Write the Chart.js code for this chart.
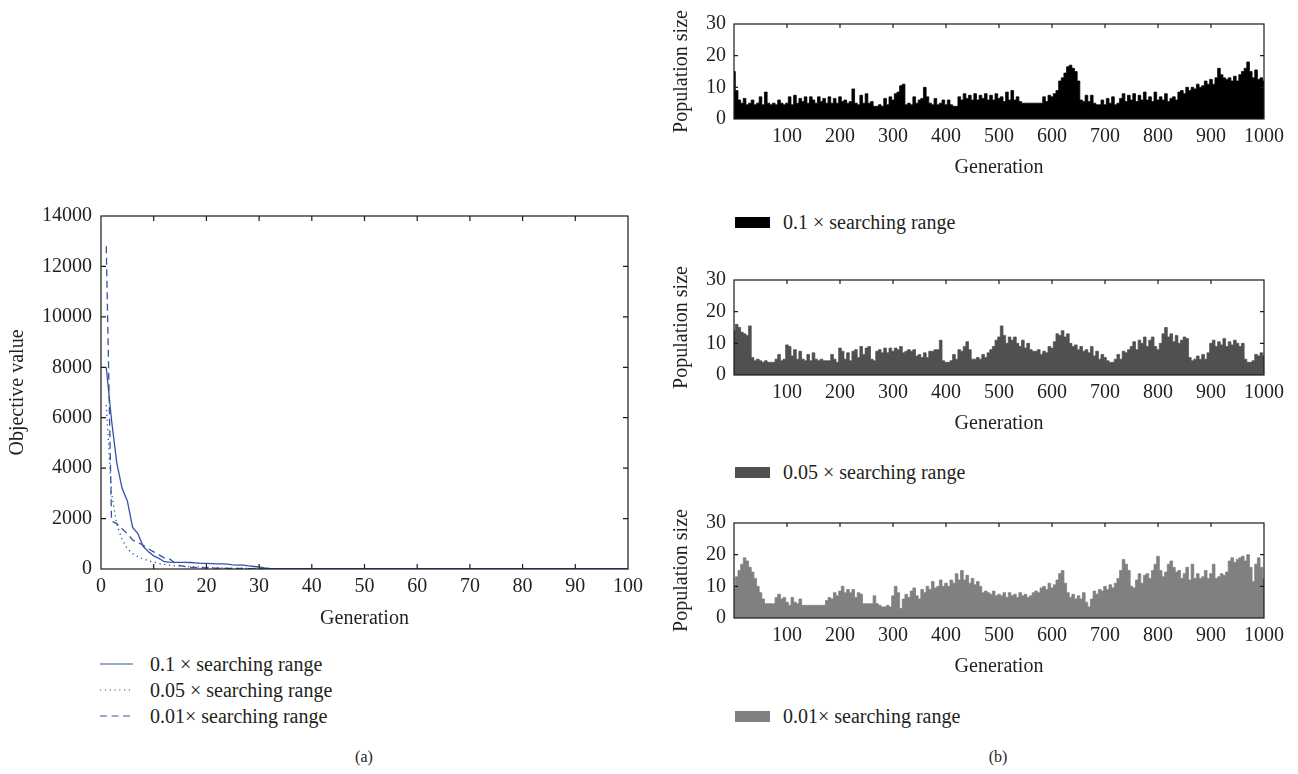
<!DOCTYPE html>
<html>
<head>
<meta charset="utf-8">
<script src="https://cdn.jsdelivr.net/npm/chart.js@4.4.1/dist/chart.umd.min.js"></script>
<style>
  html, body { margin: 0; padding: 0; background: #ffffff; }
  body { width: 1298px; height: 774px; position: relative; overflow: hidden;
         font-family: "Liberation Serif", "DejaVu Serif", serif; color: #231f20; }
  canvas { position: absolute; }
  .leg { position: absolute; font-size: 20px; line-height: 24px; white-space: nowrap; }
  .leg svg { position: absolute; }
  .cap { position: absolute; font-size: 16px; transform: translateX(-50%); }
</style>
</head>
<body>
<canvas id="chartA" width="660" height="445" style="left:0px;top:195px"></canvas>
<canvas id="chartB1" width="638" height="185" style="left:660px;top:0px"></canvas>
<canvas id="chartB2" width="638" height="185" style="left:660px;top:256px"></canvas>
<canvas id="chartB3" width="638" height="185" style="left:660px;top:499px"></canvas>

<!-- legend of panel (a) -->
<div class="leg" style="left:100px;top:652px;width:300px;height:80px">
  <svg width="34" height="80" style="left:0;top:0">
    <line x1="0" y1="12" x2="33" y2="12" stroke="#3553a5" stroke-width="1.2"/>
    <line x1="0" y1="38" x2="33" y2="38" stroke="#3553a5" stroke-width="1.2" stroke-dasharray="1.2 3.6"/>
    <line x1="0" y1="64" x2="33" y2="64" stroke="#3553a5" stroke-width="1.2" stroke-dasharray="7 4.5"/>
  </svg>
  <div style="position:absolute;left:50px;top:0px">0.1 × searching range</div>
  <div style="position:absolute;left:50px;top:26px">0.05 × searching range</div>
  <div style="position:absolute;left:50px;top:52px">0.01× searching range</div>
</div>

<!-- legends of panel (b) -->
<div class="leg" style="left:735px;top:210px">
  <span style="position:absolute;left:0;top:7px;width:35px;height:11px;background:#000000"></span>
  <span style="position:absolute;left:48px;top:0">0.1 × searching range</span>
</div>
<div class="leg" style="left:735px;top:460px">
  <span style="position:absolute;left:0;top:7px;width:35px;height:11px;background:#4f5150"></span>
  <span style="position:absolute;left:48px;top:0">0.05 × searching range</span>
</div>
<div class="leg" style="left:735px;top:704px">
  <span style="position:absolute;left:0;top:7px;width:35px;height:11px;background:#808080"></span>
  <span style="position:absolute;left:48px;top:0">0.01× searching range</span>
</div>

<div class="cap" style="left:364px;top:748px">(a)</div>
<div class="cap" style="left:998px;top:748px">(b)</div>

<script>
// ---- Panel (a): objective value per generation ----
const genA = [
  1, 2, 3, 4, 5, 6, 7, 8, 9, 10, 11, 12, 13, 14, 15, 16, 17, 18, 19, 20,
  21, 22, 23, 24, 25, 26, 27, 28, 29, 30, 31, 32, 33, 34, 35, 36, 37, 38, 39, 40,
  41, 42, 43, 44, 45, 46, 47, 48, 49, 50, 51, 52, 53, 54, 55, 56, 57, 58, 59, 60,
  61, 62, 63, 64, 65, 66, 67, 68, 69, 70, 71, 72, 73, 74, 75, 76, 77, 78, 79, 80,
  81, 82, 83, 84, 85, 86, 87, 88, 89, 90, 91, 92, 93, 94, 95, 96, 97, 98, 99, 100
];
const objRange010 = [
  8000, 5900, 4200, 3200, 2700, 1650, 1400, 900, 680, 520, 420, 290, 270, 265, 262, 260, 258, 240, 225, 220,
  215, 205, 200, 190, 165, 155, 150, 120, 100, 80, 40, 20, 12, 10, 10, 10, 10, 10, 10, 10,
  10, 10, 10, 10, 10, 10, 10, 10, 10, 10, 10, 10, 10, 10, 10, 10, 10, 10, 10, 10,
  10, 10, 10, 10, 10, 10, 10, 10, 10, 10, 10, 10, 10, 10, 10, 10, 10, 10, 10, 10,
  10, 10, 10, 10, 10, 10, 10, 10, 10, 10, 10, 10, 10, 10, 10, 10, 10, 10, 10, 10
];
const objRange005 = [
  6500, 3000, 1750, 1180, 800, 615, 490, 400, 330, 270, 220, 180, 150, 125, 110, 100, 90, 85, 80, 70,
  55, 45, 40, 35, 30, 25, 22, 20, 18, 15, 12, 10, 10, 10, 10, 10, 10, 10, 10, 10,
  10, 10, 10, 10, 10, 10, 10, 10, 10, 10, 10, 10, 10, 10, 10, 10, 10, 10, 10, 10,
  10, 10, 10, 10, 10, 10, 10, 10, 10, 10, 10, 10, 10, 10, 10, 10, 10, 10, 10, 10,
  10, 10, 10, 10, 10, 10, 10, 10, 10, 10, 10, 10, 10, 10, 10, 10, 10, 10, 10, 10
];
const objRange001 = [
  12800, 1900, 1800, 1600, 1400, 1150, 1050, 940, 800, 680, 560, 440, 400, 250, 130, 90, 70, 60, 50, 45,
  40, 35, 30, 28, 25, 22, 20, 18, 15, 12, 10, 10, 10, 10, 10, 10, 10, 10, 10, 10,
  10, 10, 10, 10, 10, 10, 10, 10, 10, 10, 10, 10, 10, 10, 10, 10, 10, 10, 10, 10,
  10, 10, 10, 10, 10, 10, 10, 10, 10, 10, 10, 10, 10, 10, 10, 10, 10, 10, 10, 10,
  10, 10, 10, 10, 10, 10, 10, 10, 10, 10, 10, 10, 10, 10, 10, 10, 10, 10, 10, 10
];
const ticksGenA = [0, 10, 20, 30, 40, 50, 60, 70, 80, 90, 100];
const ticksObj = [0, 2000, 4000, 6000, 8000, 10000, 12000, 14000];

// ---- Panel (b): population size, sampled every 5 generations (0..1000) ----
const popRange010 = [
  15, 9, 6, 5, 6.5, 4.5, 5, 6, 4.5, 5, 7, 4.5, 8.5, 5, 4.5, 5, 4.5, 6, 5, 4.5,
  5, 7, 4.5, 7.5, 5, 6.5, 5.5, 7, 5, 7, 6, 5, 7, 5.5, 6.5, 5, 7, 5, 6.5, 5,
  7, 5.5, 6, 5, 5.5, 9.5, 5, 4.5, 7.5, 5, 8, 5, 5.5, 4, 4, 4.5, 4, 6.5, 4.5, 7,
  6, 8, 8.5, 10.5, 11, 4.5, 5, 4.5, 7, 5, 6, 6.5, 10, 7, 5, 4.5, 6.5, 4.5, 5, 6,
  4.5, 6, 4.5, 4, 4, 7, 6, 8, 6.5, 7.5, 6, 8, 6, 7.5, 6.5, 8, 6, 7.5, 6, 8,
  6.5, 7, 5.5, 8.5, 6, 9, 6, 7, 5.5, 5, 5, 5, 5, 5, 5, 5, 5, 7, 5.5, 7.5,
  7, 8, 9, 12, 13, 14.5, 16.5, 17, 16, 15, 12, 6, 5.5, 7.5, 5.5, 7.5, 5, 4.5, 4.5, 6,
  4.5, 6.5, 5, 7, 4.5, 5, 6.5, 8, 5.5, 7.5, 6, 8, 5.5, 7.5, 6, 8.5, 6, 7, 5.5, 8.5,
  6, 7, 6, 8, 5.5, 6.5, 7, 6, 8.5, 9, 8, 10, 9, 10, 9.5, 11, 10, 10.5, 12, 11,
  12.5, 11, 13, 16, 14, 13, 12.5, 13, 12, 13.5, 12, 14, 15, 16, 18, 15, 13, 15.5, 12.5, 13,
  12
];
const popRange005 = [
  14, 16, 15, 13.5, 13, 12.5, 15.5, 5.5, 4.5, 5, 4.5, 4, 4.5, 4, 4, 4, 5, 6.5, 4.5, 5,
  9.5, 9, 6, 8, 5, 7.5, 5, 4.5, 6.5, 4.5, 7, 5, 4.5, 5, 4.5, 4.5, 4.5, 6.5, 5, 4,
  8.5, 7.5, 5, 7, 4.5, 7.5, 8, 5.5, 9, 6.5, 8.5, 9, 5, 4.5, 7.5, 8, 7, 8.5, 7, 8.5,
  7.5, 8.5, 8, 9, 7, 7.5, 8, 7.5, 8, 6, 6.5, 5.5, 7, 5.5, 7.5, 7.5, 8, 8, 11, 4.5,
  4, 4, 4.5, 6.5, 5, 8, 7.5, 9, 10.5, 8, 5, 5, 5.5, 5, 6.5, 5.5, 7, 8, 9, 11,
  12, 15.5, 12.5, 10, 12, 11, 12, 10, 9, 11, 8.5, 10, 8, 7.5, 7.5, 8, 6.5, 7.5, 7, 9,
  8.5, 10.5, 13, 12.5, 14, 12, 13, 10, 9, 9.5, 8, 9, 7.5, 8, 7, 9, 6, 7.5, 5, 6.5,
  5.5, 4.5, 4, 4, 5, 6.5, 5, 7.5, 7, 8, 9, 10.5, 8, 11, 10, 12, 9, 11, 12, 9,
  8, 10, 13, 15, 12, 13, 10.5, 12.5, 10, 11, 12, 11.5, 5.5, 4.5, 5, 6, 5, 6.5, 5, 7,
  10, 11, 9, 10.5, 9.5, 11.5, 9, 10.5, 9.5, 11, 10, 9, 10, 5, 4, 4, 4.5, 6.5, 6, 7,
  6
];
const popRange001 = [
  9.5, 13, 15, 17, 19, 18, 16, 14.5, 12.5, 10, 8, 6, 4.5, 4.5, 4.5, 4.5, 6.5, 7.5, 6, 6.5,
  5, 4, 6.5, 5, 4.5, 6, 4, 4, 4, 4, 4, 4, 4, 4, 4, 5.5, 6.5, 6, 8, 7,
  8.5, 10, 8, 9, 8, 9, 6.5, 8, 7.5, 4.5, 4.5, 4.5, 4.5, 7, 4.5, 4, 3.5, 3.5, 4, 3.5,
  7, 10, 8, 3, 6, 7.5, 6.5, 8.5, 9.5, 7, 6, 9, 8, 10, 9, 11.5, 9.5, 10, 12, 10,
  11, 10, 12, 11, 14, 12, 15, 12, 13.5, 11, 12.5, 10.5, 11.5, 10, 8, 8.5, 8, 7.5, 8.5, 7,
  7.5, 7, 8, 6.5, 8, 7, 7.5, 6.5, 8, 7, 7.5, 6.5, 7, 8, 8.5, 8, 9.5, 10, 9, 11,
  9.5, 10.5, 12, 14, 15, 11, 8, 6.5, 7.5, 6, 7, 6, 8, 5, 3.5, 6, 8.5, 7.5, 9, 8.5,
  10, 9, 10.5, 9.5, 11, 12.5, 15, 18.5, 17, 15, 10, 9.5, 12, 14, 11, 13.5, 14, 12.5, 15, 17,
  19.5, 15, 13, 14.5, 17, 18, 16, 14.5, 15, 12.5, 14, 16, 12, 17, 12.5, 14, 12.5, 13, 15, 12.5,
  14, 17, 12.5, 13, 14, 13.5, 14.5, 18, 19, 17.5, 18.5, 19, 19.5, 18, 20, 16, 11.5, 17, 19, 16,
  12.5
];
const genStepB = 5;
const ticksGenB = [100, 200, 300, 400, 500, 600, 700, 800, 900, 1000];
const ticksPop = [0, 10, 20, 30];

const TEXT = '#231f20';
const FONT = { family: '"Liberation Serif", "DejaVu Serif", serif', size: 20 };
const plainLabel = v => String(v);

// Box around the plot area with short inward tick marks on the chosen sides
const framePlugin = {
  id: 'frame',
  afterDatasetsDraw(chart, args, opts) {
    const { ctx, chartArea: a, scales: { x, y } } = chart;
    const len = opts.len || 5;
    const sides = opts.sides || [];
    ctx.save();
    ctx.strokeStyle = '#1a1a1a';
    ctx.lineWidth = 1.2;
    ctx.strokeRect(a.left, a.top, a.right - a.left, a.bottom - a.top);
    ctx.beginPath();
    x.ticks.forEach(t => {
      const px = x.getPixelForValue(t.value);
      if (px <= a.left + 1 || px >= a.right - 1) return;
      if (sides.includes('top')) { ctx.moveTo(px, a.top); ctx.lineTo(px, a.top + len); }
      if (sides.includes('bottom')) { ctx.moveTo(px, a.bottom); ctx.lineTo(px, a.bottom - len); }
    });
    y.ticks.forEach(t => {
      const py = y.getPixelForValue(t.value);
      if (py <= a.top + 1 || py >= a.bottom - 1) return;
      if (sides.includes('left')) { ctx.moveTo(a.left, py); ctx.lineTo(a.left + len, py); }
      if (sides.includes('right')) { ctx.moveTo(a.right, py); ctx.lineTo(a.right - len, py); }
    });
    ctx.stroke();
    ctx.restore();
  }
};

function fixedTicks(list) {
  return scale => { scale.ticks = list.map(v => ({ value: v })); };
}

// ---- Panel (a) ----
const lineColor = '#3553a5';
function seriesA(values) {
  return values.map((v, i) => ({ x: genA[i], y: v }));
}
new Chart(document.getElementById('chartA'), {
  type: 'line',
  data: {
    datasets: [
      { label: '0.1 × searching range', data: seriesA(objRange010), borderColor: lineColor, borderWidth: 1.3 },
      { label: '0.05 × searching range', data: seriesA(objRange005), borderColor: lineColor, borderWidth: 1.3, borderDash: [1.3, 3.5] },
      { label: '0.01× searching range', data: seriesA(objRange001), borderColor: lineColor, borderWidth: 1.3, borderDash: [7, 4.5] }
    ]
  },
  options: {
    responsive: false,
    animation: false,
    devicePixelRatio: 1,
    layout: { padding: { top: 18, right: 32, left: 0, bottom: 0 } },
    elements: { point: { radius: 0 }, line: { tension: 0 } },
    plugins: { legend: { display: false }, tooltip: { enabled: false },
               frame: { len: 5, sides: ['top', 'bottom', 'left', 'right'] } },
    scales: {
      x: {
        type: 'linear', min: 0, max: 100,
        afterBuildTicks: fixedTicks(ticksGenA),
        afterFit: s => { s.height = 71; },
        grid: { display: false, drawTicks: false },
        border: { display: false },
        ticks: { padding: 6, font: FONT, color: TEXT, maxRotation: 0, autoSkip: false, callback: plainLabel },
        title: { display: true, text: 'Generation', font: FONT, color: TEXT, padding: { top: 0, bottom: 9 } }
      },
      y: {
        type: 'linear', min: 0, max: 14000,
        afterBuildTicks: fixedTicks(ticksObj),
        afterFit: s => { s.width = 101; },
        grid: { display: false, drawTicks: false },
        border: { display: false },
        ticks: { padding: 9, font: FONT, color: TEXT, autoSkip: false, callback: plainLabel },
        title: { display: true, text: 'Objective value', font: FONT, color: TEXT, padding: { top: 6, bottom: 0 } }
      }
    }
  },
  plugins: [framePlugin]
});

// ---- Panel (b) ----
function seriesB(values) {
  return values.map((v, i) => ({ x: i * genStepB, y: v }));
}
function popChart(id, values, color, label) {
  return new Chart(document.getElementById(id), {
    type: 'line',
    data: {
      datasets: [{
        label: label, data: seriesB(values),
        borderColor: color, backgroundColor: color, borderWidth: 0.8,
        fill: 'origin', pointRadius: 0, stepped: 'middle'
      }]
    },
    options: {
      responsive: false,
      animation: false,
      devicePixelRatio: 1,
      layout: { padding: { top: 24, right: 34, left: 0, bottom: 0 } },
      plugins: { legend: { display: false }, tooltip: { enabled: false },
                 frame: { len: 4, sides: ['top', 'left', 'right'] } },
      scales: {
        x: {
          type: 'linear', min: 0, max: 1000,
          afterBuildTicks: fixedTicks(ticksGenB),
          afterFit: s => { s.height = 66; },
          grid: { display: false, drawTicks: false },
          border: { display: false },
          ticks: { padding: 6, font: FONT, color: TEXT, maxRotation: 0, autoSkip: false, callback: plainLabel },
          title: { display: true, text: 'Generation', font: FONT, color: TEXT, padding: { top: 0, bottom: 5 } }
        },
        y: {
          type: 'linear', min: 0, max: 30,
          afterBuildTicks: fixedTicks(ticksPop),
          afterFit: s => { s.width = 74; },
          grid: { display: false, drawTicks: false },
          border: { display: false },
          ticks: { padding: 8, font: FONT, color: TEXT, autoSkip: false, callback: plainLabel },
          title: { display: true, text: 'Population size', font: FONT, color: TEXT, padding: { top: 10, bottom: 0 } }
        }
      }
    },
    plugins: [framePlugin]
  });
}
popChart('chartB1', popRange010, '#000000', '0.1 × searching range');
popChart('chartB2', popRange005, '#4f5150', '0.05 × searching range');
popChart('chartB3', popRange001, '#808080', '0.01× searching range');
</script>
</body>
</html>
